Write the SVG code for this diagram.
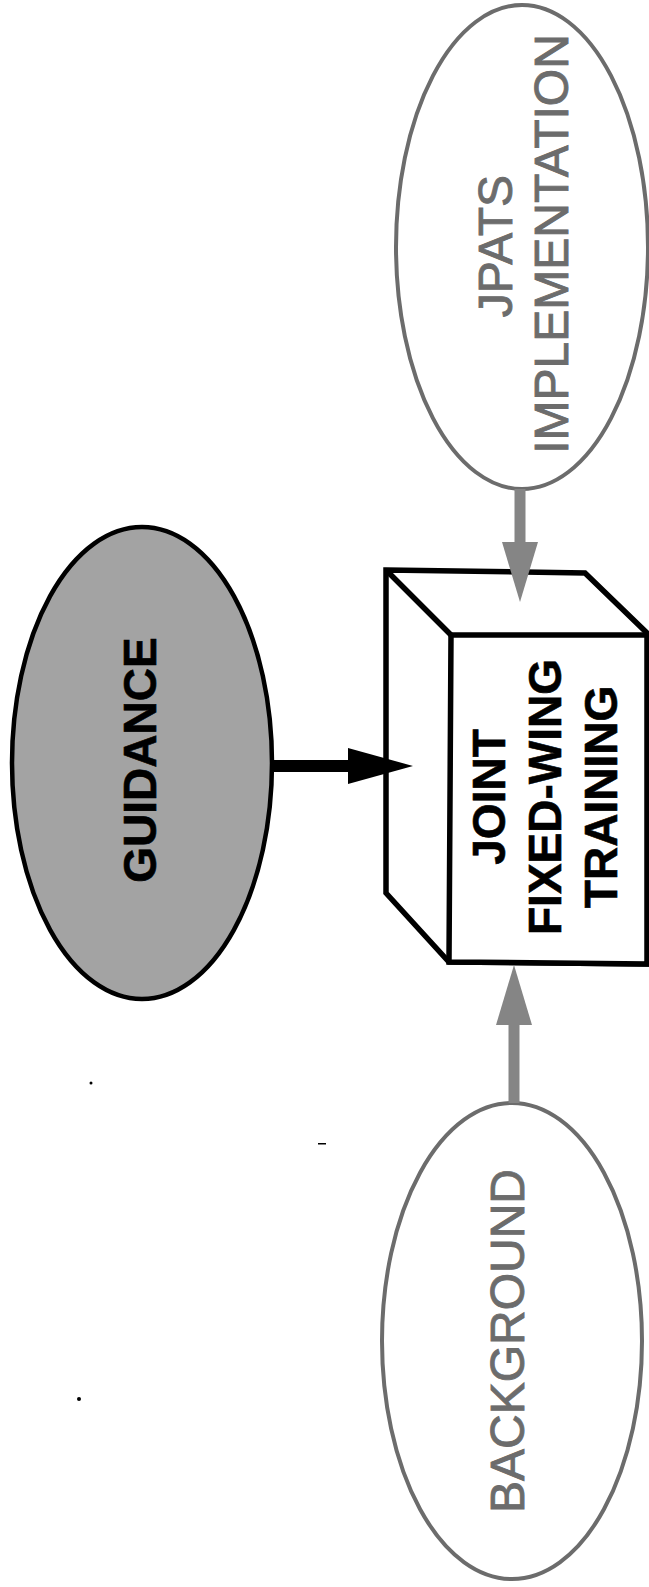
<svg xmlns="http://www.w3.org/2000/svg" width="649" height="1587" viewBox="0 0 649 1587">
  <style>
    .bold-lbl { font-family: "Liberation Sans", Arial, sans-serif; font-weight: bold; font-size: 46px; fill: #000; stroke: #000; stroke-width: 0.6; text-anchor: middle; }
    .soft-lbl { font-family: "Liberation Sans", Arial, sans-serif; font-size: 48px; fill: #6c6c6c; stroke: #6c6c6c; stroke-width: 0.9; text-anchor: middle; }
    .soft-node { fill: #fff; stroke: #6c6c6c; stroke-width: 4; }
    .box-line { fill: #fff; stroke: #000; stroke-width: 5.5; stroke-linejoin: miter; }
    .feed { stroke: #858585; stroke-width: 11; fill: none; }
    .main { stroke: #000; stroke-width: 12; fill: none; }
  </style>
  <defs>
    <marker id="head-grey" viewBox="0 0 60 36" markerUnits="userSpaceOnUse" markerWidth="60" markerHeight="36" refX="0" refY="18" orient="auto">
      <path d="M0,0 L60,18 L0,36 z" fill="#858585"/>
    </marker>
    <marker id="head-black" viewBox="0 0 65 36" markerUnits="userSpaceOnUse" markerWidth="65" markerHeight="36" refX="0" refY="18" orient="auto">
      <path d="M0,0 L65,18 L0,36 z" fill="#000"/>
    </marker>
  </defs>

  <rect x="0" y="0" width="649" height="1587" fill="#fff"/>

  <!-- implementation source -->
  <g id="node-jpats">
    <ellipse class="soft-node" cx="522" cy="247" rx="126" ry="242"/>
    <text class="soft-lbl" transform="translate(512,246) rotate(-90)">JPATS</text>
    <text class="soft-lbl" transform="translate(568,244) rotate(-90)">IMPLEMENTATION</text>
  </g>

  <!-- guidance source -->
  <g id="node-guidance">
    <ellipse cx="142" cy="763" rx="130" ry="236" fill="#a3a3a3" stroke="#000" stroke-width="4.5"/>
    <text class="bold-lbl" transform="translate(156,760) rotate(-90)">GUIDANCE</text>
  </g>

  <!-- central 3-D box -->
  <g id="node-training">
    <polygon class="box-line" points="386,570 585,573 647,633 647,964 449,962 386,893"/>
    <polygon class="box-line" points="451,635 647,635 647,964 449,962"/>
    <line x1="386" y1="570" x2="451" y2="635" stroke="#000" stroke-width="5.5"/>
    <text class="bold-lbl" transform="translate(505,797) rotate(-90)">JOINT</text>
    <text class="bold-lbl" transform="translate(561,797) rotate(-90)">FIXED-WING</text>
    <text class="bold-lbl" transform="translate(617,797) rotate(-90)">TRAINING</text>
  </g>

  <!-- background source -->
  <g id="node-background">
    <ellipse class="soft-node" cx="512" cy="1341" rx="130" ry="238"/>
    <text class="soft-lbl" transform="translate(524,1341) rotate(-90)">BACKGROUND</text>
  </g>

  <!-- arrows into the box -->
  <g id="connectors">
    <line class="feed" x1="520" y1="489" x2="520" y2="542" marker-end="url(#head-grey)"/>
    <line class="feed" x1="514" y1="1103" x2="514" y2="1025" marker-end="url(#head-grey)"/>
    <line class="main" x1="270" y1="766" x2="348" y2="766" marker-end="url(#head-black)"/>
  </g>

  <!-- loose specks -->
  <g id="specks" fill="#000">
    <circle cx="91" cy="1083" r="1.5"/>
    <circle cx="79" cy="1399" r="2"/>
    <rect x="318" y="1143" width="8" height="1.5"/>
  </g>
</svg>
